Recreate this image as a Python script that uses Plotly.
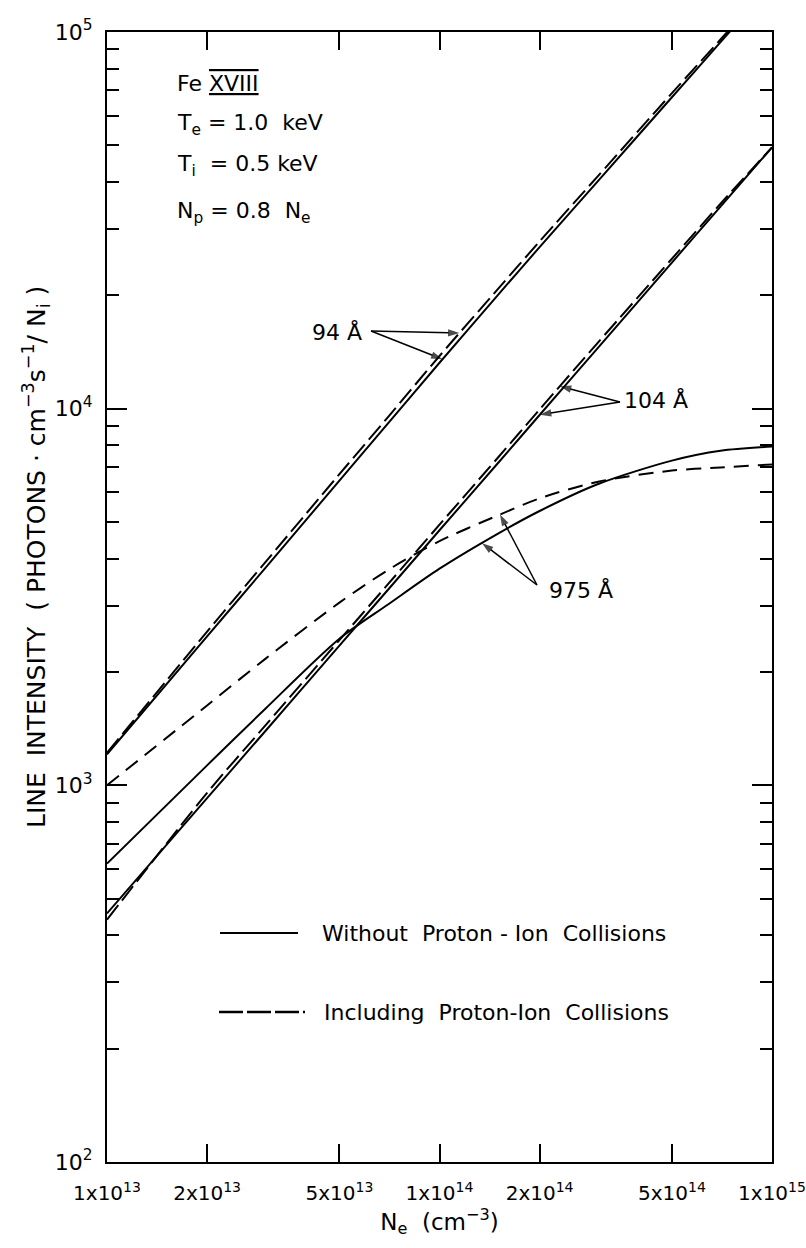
import numpy as np
import plotly.graph_objects as go

# ---------------- data ----------------
NE = [1e13, 2e13, 3e13, 5e13, 7e13, 1e14, 1.5e14, 2e14, 3e14, 5e14, 7e14, 1e15]

I94_without = [1208, 2485, 3785, 6440, 9140, 13240, 20050, 26850, 40270, 67100, 93970, 134300]
I94_with    = [1220, 2560, 3920, 6700, 9500, 13800, 20800, 27800, 41500, 68800, 95500, 136000]

I104_without = [457, 925, 1396, 2350, 3305, 4755, 7175, 9620, 14520, 24430, 34400, 49400]
I104_with    = [440, 955, 1445, 2430, 3420, 4920, 7420, 9950, 15000, 25000, 35000, 49400]

I975_without = [620, 1130, 1600, 2450, 3020, 3760, 4660, 5350, 6310, 7280, 7730, 7930]
I975_with    = [1000, 1630, 2170, 3055, 3730, 4450, 5210, 5780, 6400, 6850, 6980, 7110]

x_tickvals = [1e13, 2e13, 5e13, 1e14, 2e14, 5e14, 1e15]
x_ticktext = ["1x10<sup>13</sup>", "2x10<sup>13</sup>", "5x10<sup>13</sup>",
              "1x10<sup>14</sup>", "2x10<sup>14</sup>", "5x10<sup>14</sup>", "1x10<sup>15</sup>"]
y_tickvals = [1e2, 1e3, 1e4, 1e5]
y_ticktext = ["10<sup>2</sup>", "10<sup>3</sup>", "10<sup>4</sup>", "10<sup>5</sup>"]
y_minor = [m * 10 ** d for d in (2, 3, 4) for m in range(2, 10)]

FONT = "DejaVu Sans"
BLACK = "black"

fig = go.Figure()

solid = dict(color=BLACK, width=2)
dash_long = dict(color=BLACK, width=2, dash="18px,6px")
dash_short = dict(color=BLACK, width=2, dash="15px,9px")

for ys, ln, nm in [
    (I94_without, solid, "94 Å without"),
    (I94_with, dash_long, "94 Å including"),
    (I104_without, solid, "104 Å without"),
    (I104_with, dash_long, "104 Å including"),
    (I975_without, solid, "975 Å without"),
    (I975_with, dash_short, "975 Å including"),
]:
    fig.add_trace(go.Scatter(x=NE, y=ys, mode="lines", line=dict(**ln, shape="spline", smoothing=0.8),
                             name=nm, showlegend=False, hoverinfo="skip"))

# ---------------- helpers ----------------
L0, R0, T0, B0 = 107, 772, 32, 1162  # plot area pixels
def px(p):
    return (p - L0) / (R0 - L0)
def py(p):
    return (B0 - p) / (B0 - T0)
def pix_to_data(tx, ty):
    lx = 13 + (tx - L0) / (R0 - L0) * 2
    ly = 5 - (ty - T0) / (B0 - T0) * 3
    return 10 ** lx, 10 ** ly

def on_curve(xv, ys):
    ly = np.interp(np.log10(xv), np.log10(NE), np.log10(ys))
    return xv, 10 ** ly

annotations = []

# parameter block
info = [
    ("Fe <span style='text-decoration:underline overline'>XVIII</span>", 83),
    ("T<sub>e</sub> = 1.0  keV", 125),
    ("T<sub>i</sub>  = 0.5 keV", 166),
    ("N<sub>p</sub> = 0.8  N<sub>e</sub>", 212),
]
for txt, yy in info:
    annotations.append(dict(text=txt, xref="paper", yref="paper", x=px(175), y=py(yy),
                            xanchor="left", yanchor="middle", showarrow=False,
                            font=dict(family=FONT, size=22, color=BLACK)))

# line labels
for txt, xx, yy, anc in [("94 Å", 337, 332, "center"), ("104 Å", 622, 400, "left"), ("975 Å", 547, 590, "left")]:
    annotations.append(dict(text=txt, xref="paper", yref="paper", x=px(xx), y=py(yy),
                            xanchor=anc, yanchor="middle", showarrow=False,
                            font=dict(family=FONT, size=22, color=BLACK)))

# arrows drawn as small traces: tail pixel -> tip on the curve
arrows = [
    (10 ** 14.06, I94_with, (371, 331)),
    (10 ** 14.009, I94_without, (371, 331)),
    (10 ** 14.362, I104_with, (620, 402)),
    (10 ** 14.302, I104_without, (620, 402)),
    (10 ** 14.128, I975_without, (537, 585)),
    (10 ** 14.182, I975_with, (537, 585)),
]
for xv, ys, (tx, ty) in arrows:
    x_tip, y_tip = on_curve(xv, ys)
    x_tail, y_tail = pix_to_data(tx, ty)
    fig.add_trace(go.Scatter(
        x=[x_tail, x_tip], y=[y_tail, y_tip], mode="lines+markers",
        line=dict(color=BLACK, width=1.5),
        marker=dict(symbol=["circle", "arrow"], size=[0, 12], angleref="previous",
                    color=BLACK, line=dict(width=0)),
        showlegend=False, hoverinfo="skip"))

# y axis title (rotated)
annotations.append(dict(text="LINE  INTENSITY  ( PHOTONS · cm<sup>−3</sup>s<sup>−1</sup>/ N<sub>i</sub> )",
                        xref="paper", yref="paper", x=px(36), y=py(557), textangle=-90,
                        xanchor="center", yanchor="middle", showarrow=False,
                        font=dict(family=FONT, size=25, color=BLACK)))

# legend text
annotations.append(dict(text="Without  Proton - Ion  Collisions", xref="paper", yref="paper",
                        x=px(320), y=py(933), xanchor="left", yanchor="middle", showarrow=False,
                        font=dict(family=FONT, size=22, color=BLACK)))
annotations.append(dict(text="Including  Proton-Ion  Collisions", xref="paper", yref="paper",
                        x=px(322), y=py(1012), xanchor="left", yanchor="middle", showarrow=False,
                        font=dict(family=FONT, size=22, color=BLACK)))

shapes = [
    dict(type="line", xref="paper", yref="paper", x0=px(220), x1=px(298), y0=py(933), y1=py(933),
         line=dict(color=BLACK, width=2)),
    dict(type="line", xref="paper", yref="paper", x0=px(219), x1=px(305), y0=py(1012), y1=py(1012),
         line=dict(color=BLACK, width=2.5, dash="24px,4px")),
]

fig.update_layout(
    width=806, height=1248,
    margin=dict(l=L0, r=806 - R0, t=T0, b=1248 - B0),
    paper_bgcolor="white", plot_bgcolor="white",
    showlegend=False,
    annotations=annotations,
    shapes=shapes,
    font=dict(family=FONT, color=BLACK),
)

fig.update_xaxes(
    type="log", range=[13, 15], automargin=False,
    tickmode="array", tickvals=x_tickvals, ticktext=x_ticktext,
    ticks="inside", ticklen=18, tickwidth=2, tickcolor=BLACK,
    showline=True, linewidth=2, linecolor=BLACK, mirror="allticks",
    showgrid=False, zeroline=False,
    tickfont=dict(family=FONT, size=20, color=BLACK),
    ticklabelstandoff=12, ticklabeloverflow="allow",
    title=dict(text="N<sub>e</sub>  (cm<sup>−3</sup>)", font=dict(family=FONT, size=23, color=BLACK), standoff=8),
)
fig.update_yaxes(
    type="log", range=[2, 5], automargin=False,
    tickmode="array", tickvals=y_tickvals, ticktext=y_ticktext,
    ticks="inside", ticklen=20, tickwidth=2, tickcolor=BLACK,
    minor=dict(tickmode="array", tickvals=y_minor, ticks="inside", ticklen=12, tickwidth=1.5, tickcolor=BLACK,
               showgrid=False),
    showline=True, linewidth=2, linecolor=BLACK, mirror="allticks",
    showgrid=False, zeroline=False,
    tickfont=dict(family=FONT, size=22, color=BLACK),
    ticklabelstandoff=8, ticklabeloverflow="allow",
)

fig.write_html("out.html")
